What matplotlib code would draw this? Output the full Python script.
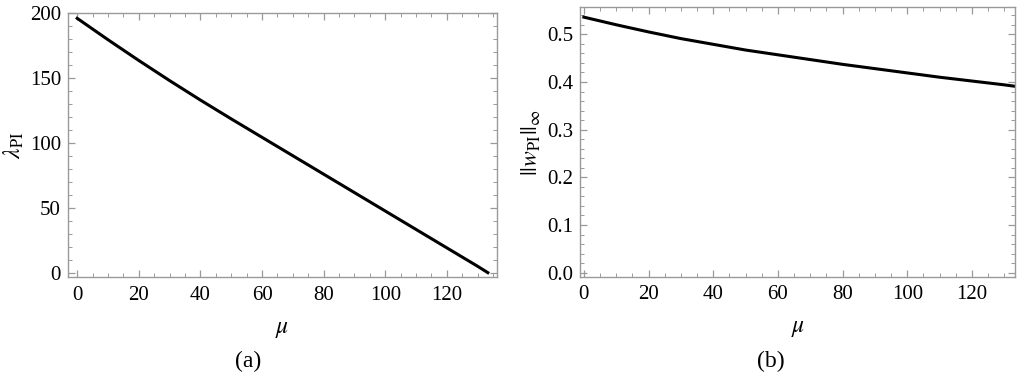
import numpy as np
import matplotlib
matplotlib.use("Agg")
from matplotlib import pyplot as plt
from matplotlib.ticker import MultipleLocator

plt.rcParams['font.family'] = 'Liberation Serif'
plt.rcParams['mathtext.fontset'] = 'stix'

# values
mu = [0, 10, 20, 30, 40, 50, 60, 70, 80, 90, 100, 110, 120, 130, 133.3]
lam_PI = [196.0, 179.5, 163.5, 148.0, 133.0, 118.5, 104.3, 90.1, 75.9, 61.7,
          47.5, 33.3, 19.1, 4.9, 0.0]
w_PI_inf = [0.536, 0.520, 0.505, 0.491, 0.479, 0.467, 0.457, 0.447, 0.437,
            0.428, 0.419, 0.410, 0.402, 0.394, 0.391]

frame_col = '#9a9a9a'


def style(ax):
    for s in ax.spines.values():
        s.set_color(frame_col)
        s.set_linewidth(1.0)
    ax.tick_params(which='both', direction='in', top=True, right=True,
                   color=frame_col, labelsize=15)
    ax.tick_params(axis='x', pad=6)
    ax.tick_params(axis='y', pad=5)
    ax.tick_params(which='major', length=5, width=0.9)
    ax.tick_params(which='minor', length=3, width=0.7)
    ax.xaxis.set_major_locator(MultipleLocator(20))
    ax.xaxis.set_minor_locator(MultipleLocator(5))


fig = plt.figure(figsize=(10.24, 3.85), dpi=100)

ax1 = fig.add_axes([0.0664, 0.2797, 0.419, 0.6878])
ax1.plot(mu, lam_PI, color='black', lw=2.2)
ax1.set_xlim(-3.0, 136.3)
ax1.set_ylim(-3.6, 200.5)
style(ax1)
ax1.yaxis.set_major_locator(MultipleLocator(50))
ax1.yaxis.set_minor_locator(MultipleLocator(10))
ax1.set_xlabel(r'$\mu$', fontsize=17, labelpad=10)
ax1.set_ylabel(r'$\lambda_{\mathrm{PI}}$', fontsize=17, labelpad=3)

ax2 = fig.add_axes([0.5667, 0.2805, 0.4245, 0.7005])
ax2.plot(mu, w_PI_inf, color='black', lw=2.2)
ax2.set_xlim(-1.1, 133.3)
ax2.set_ylim(-0.009, 0.5566)
style(ax2)
ax2.yaxis.set_major_locator(MultipleLocator(0.1))
ax2.yaxis.set_minor_locator(MultipleLocator(0.02))
ax2.yaxis.set_major_formatter(matplotlib.ticker.FormatStrFormatter('%.1f'))
ax2.set_xlabel(r'$\mu$', fontsize=17, labelpad=10)
ax2.set_ylabel(r'$||w_{\mathrm{PI}}||_{\infty}$', fontsize=17, labelpad=3)

fig.text(0.242, 0.06, '(a)', ha='center', va='center', fontsize=17)
fig.text(0.753, 0.06, '(b)', ha='center', va='center', fontsize=17)

fig.savefig('out.png', dpi=100)
